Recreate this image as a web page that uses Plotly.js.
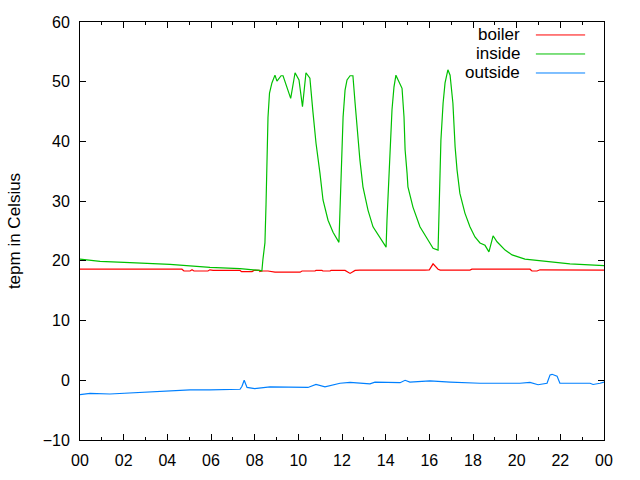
<!DOCTYPE html>
<html>
<head>
<meta charset="utf-8">
<script src="https://cdn.plot.ly/plotly-3.0.1.min.js"></script>
<style>html,body{margin:0;padding:0;background:#fff;}#chart{width:640px;height:480px;}</style>
</head>
<body>
<div id="chart"></div>
<script>
// Series names (legend order) and colours
var seriesNames = ["boiler", "inside", "outside"];
var seriesColors = ["#ff0000", "#00c000", "#0080ff"];

// Hours of day (0..24) and temperatures in Celsius
var boilerHours = [0, 4.67, 4.76, 5.04, 5.13, 5.22, 5.86, 5.95, 6.1, 7.33, 7.4, 7.88, 7.97, 8.2, 8.24, 8.33, 8.61, 8.93, 10.08, 10.17, 10.76, 10.81, 11.08, 11.13, 11.45, 11.5, 12.14, 12.37, 12.6, 12.82, 15.8, 16.0, 16.17, 16.4, 16.5, 17.86, 17.95, 20.61, 20.7, 20.93, 21.07, 24];
var boilerTemp  = [18.6, 18.6, 18.3, 18.3, 18.5, 18.3, 18.3, 18.5, 18.4, 18.4, 18.2, 18.2, 18.4, 18.4, 18.2, 18.3, 18.3, 18.1, 18.1, 18.3, 18.3, 18.4, 18.4, 18.3, 18.3, 18.4, 18.4, 17.9, 18.4, 18.45, 18.45, 18.5, 19.5, 18.6, 18.45, 18.45, 18.6, 18.6, 18.3, 18.3, 18.5, 18.45];

var insideHours = [0, 0.92, 2.29, 4.12, 5.95, 7.33, 8.24, 8.33, 8.38, 8.47, 8.52, 8.57, 8.61, 8.68, 8.79, 8.93, 9.02, 9.21, 9.30, 9.65, 9.85, 10.03, 10.19, 10.35, 10.53, 10.67, 10.81, 10.99, 11.13, 11.36, 11.59, 11.86, 11.91, 11.95, 12.00, 12.05, 12.14, 12.23, 12.37, 12.50, 12.60, 12.69, 12.82, 12.96, 13.19, 13.42, 13.74, 14.02, 14.06, 14.15, 14.20, 14.29, 14.38, 14.47, 14.57, 14.75, 14.84, 14.89, 14.98, 15.02, 15.25, 15.57, 15.94, 16.17, 16.40, 16.47, 16.53, 16.63, 16.72, 16.85, 16.95, 17.08, 17.18, 17.27, 17.40, 17.63, 17.86, 18.09, 18.32, 18.55, 18.73, 18.92, 19.10, 19.47, 19.79, 20.38, 21.30, 22.44, 24];
var insideTemp  = [20.3, 19.9, 19.7, 19.4, 18.9, 18.7, 18.4, 18.3, 20.3, 23, 29.4, 36.9, 44, 48.1, 49.8, 51.1, 50.1, 51, 51, 47.2, 51.5, 50.3, 45.8, 51.5, 50.6, 44.9, 39.7, 34.7, 30.2, 26.8, 24.8, 23.1, 29.7, 35.2, 39.7, 44.1, 48.6, 50.3, 51, 51, 46.4, 42.4, 36.9, 32.4, 28.5, 25.7, 24, 22.3, 26.8, 34.7, 39.7, 45.3, 49.1, 51.1, 50.3, 48.9, 44.1, 38.6, 34.7, 32.4, 29, 25.7, 23.5, 22.1, 21.8, 31.3, 40.2, 46.4, 49.8, 52, 51.1, 46.4, 39.1, 35.2, 31.3, 28, 25.7, 24, 23, 22.6, 21.5, 24.2, 23.2, 21.8, 21, 20.3, 19.9, 19.5, 19.2];

var outsideHours = [0, 0.46, 1.37, 2.29, 3.2, 4.12, 5.04, 5.95, 6.87, 7.33, 7.42, 7.52, 7.65, 8.0, 8.7, 9.6, 10.44, 10.81, 11.22, 11.91, 12.37, 13.28, 13.51, 14.66, 14.89, 15.11, 15.57, 16.03, 16.95, 18.32, 20.15, 20.61, 20.98, 21.39, 21.53, 21.62, 21.85, 21.98, 23.36, 23.5, 23.82, 24];
var outsideTemp  = [-2.4, -2.2, -2.3, -2.1, -2.0, -1.7, -1.6, -1.6, -1.6, -1.5, -1.0, 0.0, -1.2, -1.4, -1.1, -1.1, -1.2, -0.7, -1.1, -0.5, -0.35, -0.6, -0.3, -0.4, 0.0, -0.3, -0.25, -0.1, -0.3, -0.5, -0.5, -0.35, -0.75, -0.5, 0.9, 1.0, 0.7, -0.5, -0.5, -0.7, -0.5, -0.3];

// Axis ticks
var xTickVals = [0, 2, 4, 6, 8, 10, 12, 14, 16, 18, 20, 22, 24];
var xTickText = ["00", "02", "04", "06", "08", "10", "12", "14", "16", "18", "20", "22", "00"];
var yTickVals = [-10, 0, 10, 20, 30, 40, 50, 60];
var yTitle = "tepm in Celsius";

var xs = [boilerHours, insideHours, outsideHours];
var ys = [boilerTemp, insideTemp, outsideTemp];

var traces = seriesNames.map(function (n, i) {
  return {
    type: "scatter", mode: "lines", name: n,
    x: xs[i], y: ys[i],
    line: {color: seriesColors[i], width: 1.2},
    showlegend: false, hoverinfo: "skip"
  };
});

var font = {family: "Liberation Sans, Arial, sans-serif", size: 16, color: "#000"};
var titleFont = {family: "Liberation Sans, Arial, sans-serif", size: 17, color: "#000"};

var annotations = [];
var shapes = [];
seriesNames.forEach(function (n, i) {
  var yp = 0.969 - i * 0.0455;
  annotations.push({
    xref: "paper", yref: "paper", x: 0.8435, y: yp,
    xanchor: "right", yanchor: "middle", text: n, showarrow: false,
    font: titleFont
  });
  shapes.push({
    type: "line", xref: "paper", yref: "paper",
    x0: 0.870, x1: 0.964, y0: yp, y1: yp,
    line: {color: seriesColors[i], width: 1}
  });
});

var layout = {
  width: 640, height: 480,
  margin: {l: 80, r: 36, t: 22, b: 40, pad: 0},
  paper_bgcolor: "#fff", plot_bgcolor: "#fff",
  font: font,
  showlegend: false,
  xaxis: {
    range: [0, 24], tickmode: "array", tickvals: xTickVals, ticktext: xTickText,
    ticks: "inside", ticklen: 6, tickcolor: "#000", tickwidth: 1,
    minor: {ticks: "inside", ticklen: 3, dtick: 1, tickcolor: "#000", showgrid: false},
    showline: true, linecolor: "#000", linewidth: 1, mirror: "allticks",
    showgrid: false, zeroline: false, ticklabelstandoff: 6,
    tickfont: font
  },
  yaxis: {
    range: [-10, 60], tickmode: "array", tickvals: yTickVals,
    ticks: "inside", ticklen: 6, tickcolor: "#000", tickwidth: 1,
    showline: true, linecolor: "#000", linewidth: 1, mirror: "allticks",
    showgrid: false, zeroline: false, ticklabelstandoff: 6,
    tickfont: font,
    title: {text: yTitle, font: titleFont, standoff: 17}
  },
  annotations: annotations,
  shapes: shapes
};

Plotly.newPlot("chart", traces, layout, {staticPlot: true, displayModeBar: false});
</script>
</body>
</html>
